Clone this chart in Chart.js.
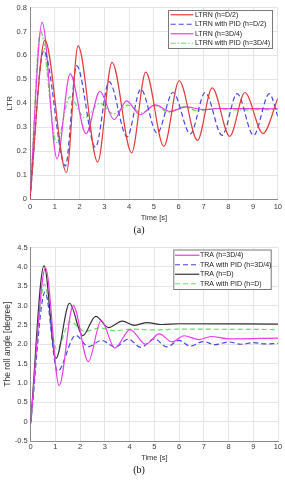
<!DOCTYPE html>
<html>
<head>
<meta charset="utf-8">
<script src="https://cdn.jsdelivr.net/npm/chart.js@4.4.1/dist/chart.umd.min.js"></script>
<style>
    html, body { margin: 0; padding: 0; background: #fff; }
    canvas { display: block; }
</style>
</head>
<body>
<canvas id="chartA" width="285" height="240"></canvas>
<canvas id="chartB" width="285" height="240"></canvas>
<script>
// Datos: (a) LTR, (b) angulo de balanceo
// Cada serie: tiempos [s] y valores en los extremos de la oscilacion

// (a)
const ltrHalfT = [0, 0.6, 1.47, 1.94, 2.73, 3.31, 4.1, 4.67, 5.4, 6.02, 6.76, 7.35, 8.06, 8.67, 9.4, 10];
const ltrHalfV = [0, 0.664, 0.111, 0.64, 0.154, 0.571, 0.193, 0.53, 0.22, 0.494, 0.245, 0.464, 0.262, 0.445, 0.274, 0.42];

const ltrHalfPidT = [0, 0.555, 1.43, 1.88, 2.64, 3.19, 3.92, 4.47, 5.13, 5.77, 6.47, 7.07, 7.75, 8.36, 9.02, 9.66, 10];
const ltrHalfPidV = [0, 0.619, 0.138, 0.557, 0.216, 0.49, 0.26, 0.459, 0.275, 0.445, 0.272, 0.445, 0.266, 0.44, 0.266, 0.44, 0.345];

const ltr34T = [0, 0.49, 1.09, 1.62, 2.26, 2.82, 3.39, 3.9, 4.44, 5.05, 5.66, 6.3, 7.0, 7.6, 10];
const ltr34V = [0, 0.738, 0.168, 0.523, 0.273, 0.45, 0.332, 0.41, 0.352, 0.393, 0.366, 0.385, 0.373, 0.378, 0.377];

const ltr34PidT = [0, 0.43, 1.07, 1.61, 2.21, 2.82, 3.36, 3.95, 4.5, 5.05, 5.6, 6.2, 6.8, 7.4, 8.0, 10];
const ltr34PidV = [0, 0.70, 0.236, 0.427, 0.339, 0.40, 0.356, 0.392, 0.36, 0.39, 0.362, 0.385, 0.368, 0.378, 0.372, 0.374];

// (b)
const tra34T = [0, 0.6, 1.15, 1.72, 2.33, 2.85, 3.4, 4.02, 4.65, 5.2, 5.72, 6.2, 6.8, 7.3, 8.0, 10];
const tra34V = [0, 3.97, 0.93, 3.0, 1.55, 2.62, 1.9, 2.38, 2.0, 2.27, 2.06, 2.22, 2.12, 2.2, 2.14, 2.16];

const tra34PidT = [0, 0.58, 1.08, 1.82, 2.33, 2.87, 3.41, 3.95, 4.45, 5.0, 5.5, 6.0, 6.45, 6.98, 7.46, 8.0, 8.5, 9.0, 9.5, 10];
const tra34PidV = [-0.05, 3.35, 1.3, 2.23, 1.94, 2.1, 1.93, 2.13, 1.92, 2.14, 1.93, 2.1, 1.95, 2.07, 1.99, 2.06, 2.0, 2.04, 2.01, 2.02];

const traDT = [0, 0.54, 1.02, 1.57, 2.1, 2.63, 3.15, 3.7, 4.2, 4.7, 5.3, 6.0, 10];
const traDV = [0, 4.03, 1.63, 3.06, 2.22, 2.72, 2.43, 2.6, 2.49, 2.56, 2.51, 2.53, 2.52];

const traDPidT = [0, 0.55, 1.05, 1.6, 2.2, 2.8, 3.4, 4.1, 5.0, 6.0, 10];
const traDPidV = [0, 3.55, 1.87, 2.58, 2.33, 2.42, 2.35, 2.39, 2.37, 2.39, 2.38];

const xTicksMax = 10;
const FONT = '"Liberation Sans", Arial, sans-serif';

const toPoints = (t, v) => t.map((x, i) => ({ x: x, y: v[i] }));

// Leyenda con caja dentro del area del grafico
const boxLegend = {
    id: 'boxLegend',
    afterDraw(chart, args, o) {
        const ctx = chart.ctx;
        const sets = chart.data.datasets;
        ctx.save();
        ctx.fillStyle = '#fff';
        ctx.fillRect(o.x, o.y, o.w, o.h);
        ctx.strokeStyle = '#7a7a7a';
        ctx.lineWidth = 1;
        ctx.strokeRect(o.x + 0.5, o.y + 0.5, o.w, o.h);
        ctx.font = '7px ' + FONT;
        ctx.textBaseline = 'middle';
        sets.forEach((ds, i) => {
            const cy = o.y + o.padTop + o.rowH * (i + 0.5);
            ctx.strokeStyle = ds.borderColor;
            ctx.lineWidth = ds.borderWidth;
            ctx.setLineDash(ds.borderDash || []);
            ctx.beginPath();
            ctx.moveTo(o.lineX0, cy);
            ctx.lineTo(o.lineX1, cy);
            ctx.stroke();
            ctx.setLineDash([]);
            ctx.fillStyle = '#222';
            ctx.fillText(ds.label, o.textX, cy);
        });
        ctx.restore();
    }
};

function makeSeries(label, t, v, color, dash) {
    return {
        label: label,
        data: toPoints(t, v),
        borderColor: color,
        borderWidth: 1.2,
        borderDash: dash,
        pointRadius: 0,
        cubicInterpolationMode: 'monotone',
        fill: false
    };
}

function makeChart(id, cfg) {
    return new Chart(document.getElementById(id), {
        type: 'line',
        data: { datasets: cfg.datasets },
        plugins: [boxLegend],
        options: {
            responsive: false,
            animation: false,
            events: [],
            layout: { padding: { left: 0, right: 7, top: 4, bottom: 0 }, autoPadding: false },
            plugins: {
                legend: { display: false },
                tooltip: { enabled: false },
                title: {
                    display: true,
                    position: 'bottom',
                    text: cfg.caption,
                    color: '#111',
                    font: { family: '"Liberation Serif", "Times New Roman", serif', size: 10, weight: 'normal' },
                    padding: { top: 0, bottom: 4 }
                },
                boxLegend: cfg.legend
            },
            scales: {
                x: {
                    type: 'linear',
                    min: 0,
                    max: xTicksMax,
                    afterFit: (s) => { s.height = cfg.xHeight; },
                    ticks: { stepSize: 1, color: '#3a3a3a', padding: cfg.xTickPad, maxRotation: 0, font: { family: FONT, size: 7.5 } },
                    grid: { color: '#e4e4e4', drawTicks: false },
                    border: { color: '#8a8a8a' },
                    title: { display: true, text: 'Time [s]', color: '#333', font: { family: FONT, size: 7.5 }, padding: { top: 0, bottom: 1.5 } }
                },
                y: {
                    min: cfg.yMin,
                    max: cfg.yMax,
                    afterFit: (s) => { s.width = cfg.yWidth; },
                    ticks: { stepSize: cfg.yStep, color: '#3a3a3a', padding: 3, font: { family: FONT, size: 7.5 } },
                    grid: { color: '#e4e4e4', drawTicks: false },
                    border: { color: '#8a8a8a' },
                    title: { display: true, text: cfg.yTitle, color: '#333', font: { family: FONT, size: cfg.yTitleSize }, padding: { top: cfg.yTitlePad, bottom: 0 } }
                }
            }
        }
    });
}

makeChart('chartA', {
    datasets: [
        makeSeries('LTRN (h=D/2)', ltrHalfT, ltrHalfV, '#e23c3c', []),
        makeSeries('LTRN with PID (h=D/2)', ltrHalfPidT, ltrHalfPidV, '#4646e0', [5, 3]),
        makeSeries('LTRN (h=3D/4)', ltr34T, ltr34V, '#ea3cea', []),
        makeSeries('LTRN with PID (h=3D/4)', ltr34PidT, ltr34PidV, '#5ade5a', [5, 2, 1.5, 2])
    ],
    caption: '(a)',
    yTitle: 'LTR',
    yTitleSize: 8,
    yTitlePad: 4.5,
    yMin: 0, yMax: 0.8, yStep: 0.1,
    yWidth: 30,
    xHeight: 25,
    xTickPad: 3,
    legend: { x: 168, y: 10, w: 104, h: 38, rowH: 9.5, padTop: 0, lineX0: 170.7, lineX1: 193.3, textX: 195 }
});

makeChart('chartB', {
    datasets: [
        makeSeries('TRA (h=3D/4)', tra34T, tra34V, '#ea3cea', []),
        makeSeries('TRA with PID (h=3D/4)', tra34PidT, tra34PidV, '#4646e0', [5, 3]),
        makeSeries('TRA (h=D)', traDT, traDV, '#333333', []),
        makeSeries('TRA with PID (h=D)', traDPidT, traDPidV, '#66e066', [5, 3])
    ],
    caption: '(b)',
    yTitle: 'The roll angle [degree]',
    yTitleSize: 8.5,
    yTitlePad: 2.2,
    yMin: -0.5, yMax: 4.5, yStep: 0.5,
    yWidth: 30.7,
    xHeight: 23,
    xTickPad: 1.5,
    legend: { x: 173.3, y: 9.5, w: 97.4, h: 39.5, rowH: 9.5, padTop: 1, lineX0: 175, lineX1: 199.3, textX: 200 }
});
</script>
</body>
</html>
